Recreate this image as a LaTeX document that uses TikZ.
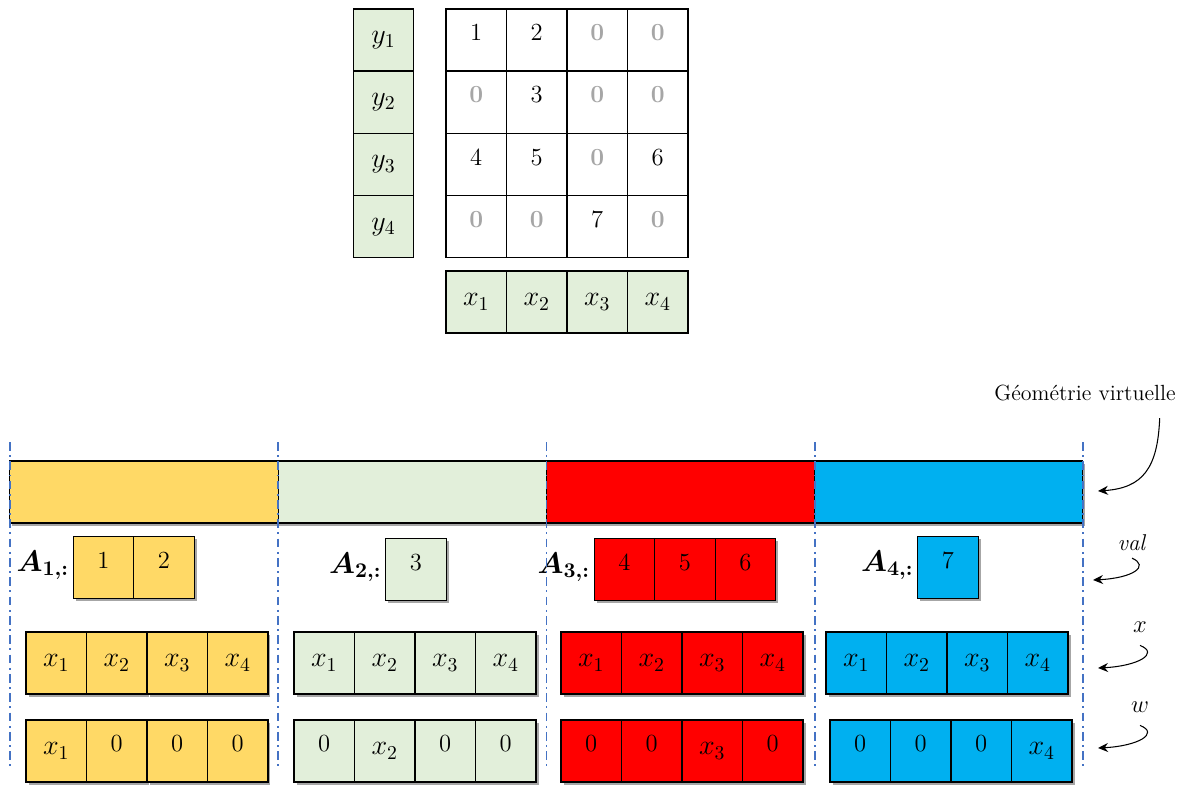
\documentclass[tikz,border=0pt]{standalone}
\usepackage{fix-cm}
\usepackage{amsmath}
\usepackage{bm}
\usetikzlibrary{arrows.meta,shadows,calc,positioning}
\definecolor{cjaune}{HTML}{FFD966}
\definecolor{cvert}{HTML}{E2EFDA}
\definecolor{crouge}{HTML}{FF0000}
\definecolor{cbleu}{HTML}{00B0F0}
\definecolor{cdash}{HTML}{4472C4}
\definecolor{czero}{HTML}{A6A6A6}
\newcommand{\grand}{\fontsize{16}{18}\selectfont}
\tikzset{
  cellule/.style={draw,line width=0.6pt,minimum width=1.21cm,minimum height=1.24cm,
    inner sep=0pt,font=\fontsize{14}{16}\selectfont},
  mcell/.style={cellule,font=\grand},
  haut/.style={text depth=0.3cm},
  ombre/.style={drop shadow={shadow xshift=0.05cm,shadow yshift=-0.05cm,opacity=0.35,fill=black}},
  limite/.style={cdash,line width=1pt,dash pattern=on 5pt off 2.5pt on 1pt off 2.5pt},
  fleche/.style={line width=0.6pt,-{Stealth[length=2mm,width=1.8mm]}},
  etiq/.style={inner sep=1pt,font=\fontsize{13}{15}\selectfont},
}

\begin{document}
\begin{tikzpicture}[x=0.02cm,y=-0.02cm]
\useasboundingbox (0,0) rectangle (1185,785);
% matrice creuse et vecteurs y, x
\foreach \i in {1,...,4}{
  \node[mcell,fill=cvert] (y\i) at (383.5,{40+62.25*(\i-1)}) {$y_{\i}$};
  \node[mcell,fill=cvert] (x\i) at ({476.25+60.5*(\i-1)},302) {$x_{\i}$};
}
\foreach \ligne [count=\r] in {{1,2,0,0},{0,3,0,0},{4,5,0,6},{0,0,7,0}}{
  \foreach \v [count=\c] in \ligne
    \node[cellule,haut,fill=white] (m\r\c) at ({476.25+60.5*(\c-1)},{40+62.25*(\r-1)})
      {\ifnum\v=0 \textcolor{czero}{\bfseries 0}\else\v\fi};
}
% geometrie virtuelle
\foreach \coul [count=\k] in {cjaune,cvert,crouge,cbleu}
  \node[draw,line width=0.6pt,fill=\coul,minimum width=5.365cm,minimum height=1.24cm,
    inner sep=0pt,ombre] (seg\k) at ({144+268.25*(\k-1)},492) {};
% lignes A_{i,:}
\foreach \g/\x/\y/\coul/\vals in {1/103.5/567.5/cjaune/{1,2},2/416/569.5/cvert/{3},
    3/624.5/569.5/crouge/{4,5,6},4/948/567.5/cbleu/{7}}{
  \foreach \v [count=\c] in \vals
    \node[cellule,haut,fill=\coul,ombre] (a\g\c) at ({\x+60.5*(\c-1)},\y) {\v};
  \node[anchor=base east,inner sep=0pt,font=\fontsize{17}{20}\selectfont]
    (lab\g) at ([xshift=-2pt,yshift=-0.07cm]a\g1.west) {$\bm{A}_{\bm{\g,:}}$};
}
% vecteurs x et w
\foreach \g/\x/\xw/\coul in {1/26/26/cjaune,2/294/294/cvert,3/561/561/crouge,4/826/830/cbleu}{
  \foreach \c in {1,...,4}{
    \node[mcell,fill=\coul,ombre] (vx\g\c) at ({\x+30.25+60.5*(\c-1)},663) {$x_{\c}$};
    \ifnum\c=\g
      \node[mcell,fill=\coul,ombre] (vw\g\c) at ({\xw+30.25+60.5*(\c-1)},751) {$x_{\c}$};
    \else
      \node[cellule,haut,fill=\coul,ombre] (vw\g\c) at ({\xw+30.25+60.5*(\c-1)},751) {0};
    \fi
  }
}
% separations
\foreach \k in {0,...,4}
  \draw[limite] ({10+268.25*\k},442) -- ({10+268.25*\k},766);
% legendes
\node[etiq,font=\fontsize{12.5}{14}\selectfont] (geo) at (1085,393) {Géométrie virtuelle};
\node[etiq] (lval) at (1132,543) {\textit{val}};
\node[etiq,font=\fontsize{14}{16}\selectfont] (lx) at (1140,627) {$x$};
\node[etiq,font=\fontsize{14}{16}\selectfont] (lw) at (1140,707) {$w$};
\coordinate (fgeo) at (1098,491);
\coordinate (fval) at (1093,580);
\coordinate (fx) at (1098,668);
\coordinate (fw) at (1098,748);
\draw[fleche] ($(geo.south east)+(-18,15)$) .. controls +(-2,50) and +(45,-3) .. (fgeo);
\draw[fleche] ([yshift=-0.1cm]lval.south) .. controls +(18,8) and +(40,-2) .. (fval);
\draw[fleche] ([yshift=-0.22cm]lx.south) .. controls +(20,8) and +(40,-2) .. (fx);
\draw[fleche] ([yshift=-0.22cm]lw.south) .. controls +(20,8) and +(40,-2) .. (fw);
\end{tikzpicture}
\end{document}
